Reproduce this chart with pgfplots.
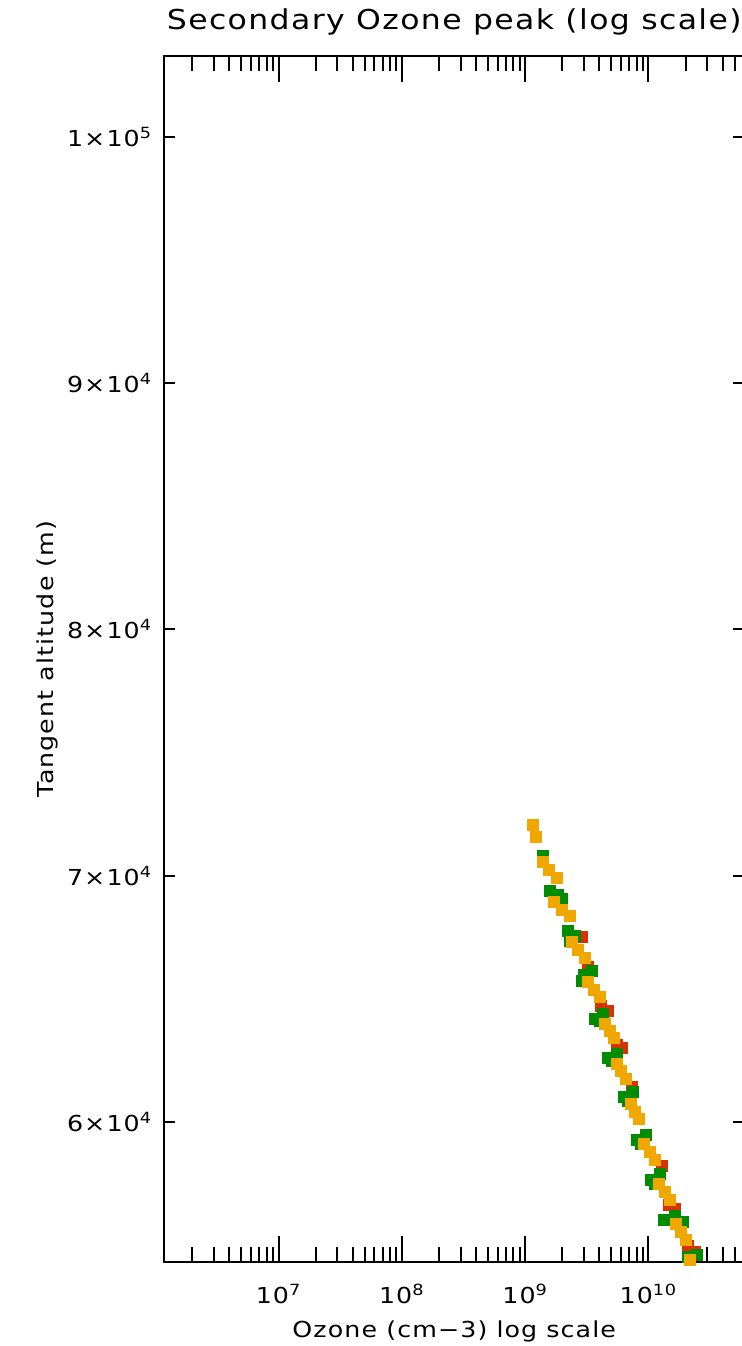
\documentclass[border=0pt]{standalone}
\usepackage{pgfplots}
\pgfplotsset{compat=1.18}
\usepackage{fontspec}
\setmainfont{DejaVu Sans}[FakeStretch=1.15, LetterSpace=5]
\definecolor{oorange}{RGB}{240,168,0}
\definecolor{ogreen}{RGB}{0,140,0}
\definecolor{ored}{RGB}{215,50,0}
\begin{document}
\begin{tikzpicture}
\begin{axis}[
  name=ax,
  scale only axis,
  width=290.75pt, height=603pt,
  xmode=log,
  xmin=1.167e6, xmax=6.07e10,
  ymin=54315, ymax=103289,
  scaled y ticks=false,
  clip=false,
  axis line style={line width=1pt, black},
  every tick/.style={line width=1pt, black},
  tick align=inside,
  major tick length=13pt,
  minor tick length=7.5pt,
  every major y tick/.append style={/pgfplots/major tick length=6pt},
  xtick={1e7,1e8,1e9,1e10},
  xticklabels={10\textsuperscript{7},10\textsuperscript{8},10\textsuperscript{9},10\textsuperscript{10}},
  minor xtick={2e6,3e6,4e6,5e6,6e6,7e6,8e6,9e6,
               2e7,3e7,4e7,5e7,6e7,7e7,8e7,9e7,
               2e8,3e8,4e8,5e8,6e8,7e8,8e8,9e8,
               2e9,3e9,4e9,5e9,6e9,7e9,8e9,9e9,
               2e10,3e10,4e10,5e10,6e10},
  ytick={60000,70000,80000,90000,100000},
  yticklabels={6×10\textsuperscript{4},7×10\textsuperscript{4},8×10\textsuperscript{4},9×10\textsuperscript{4},1×10\textsuperscript{5}},
  minor ytick={},
  tick label style={font=\fontsize{11}{13}\selectfont},
  xticklabel style={anchor=base, yshift=-20.5pt, inner sep=0pt},
  yticklabel style={anchor=east, xshift=-5.5pt, inner sep=0pt},
  title={Secondary Ozone peak (log scale)},
  title style={at={(axis description cs:0.5,1)}, anchor=base, yshift=7pt, inner sep=0pt, font=\fontsize{13.7}{15}\selectfont},
  xlabel={Ozone (cm−3) log scale},
  xlabel style={at={(axis description cs:0.5,0)}, anchor=base, yshift=-37.5pt, inner sep=0pt, font=\fontsize{11}{13}\selectfont},
  ylabel={Tangent altitude (m)},
  ylabel style={at={(axis description cs:-0.190,0.5)}, anchor=base, inner sep=0pt, font=\fontsize{11}{13}\selectfont},
]
% red series
\addplot[only marks, mark=square*, mark size=2.9pt, color=ored] coordinates {
 (2.894e9,67513) (3.237e9,66295) (4.127e9,64711) (4.703e9,64508) (5.563e9,63127) (6.108e9,63005)
 (7.362e9,61421) (1.289e10,58213) (1.469e10,56630) (1.643e10,56467)
 (2.095e10,54965) (2.388e10,54721)
};
% green series
\addplot[only marks, mark=square*, mark size=2.9pt, color=ogreen] coordinates {
 (1.397e9,70802) (1.592e9,69381) (1.849e9,69218) (1.992e9,69056)
 (2.228e9,67756) (2.540e9,67553) (2.313e9,67350)
 (3.004e9,65970) (3.488e9,66132) (2.894e9,65726)
 (3.689e9,64183) (4.284e9,64386) (4.050e9,64102)
 (4.703e9,62599) (5.563e9,62762) (5.068e9,62477)
 (6.340e9,61015) (7.500e9,61218) (6.831e9,60853)
 (8.081e9,59269) (9.561e9,59472) (8.710e9,59107)
 (1.050e10,57645) (1.242e10,57888) (1.131e10,57482)
 (1.338e10,56020) (1.643e10,56183) (1.908e10,55939)
 (2.095e10,54518) (2.479e10,54599)
};
% orange series
\addplot[only marks, mark=square*, mark size=2.9pt, color=oorange] coordinates {
 (1.159e9,72061) (1.226e9,71574)
 (1.397e9,70558) (1.562e9,70234) (1.814e9,69909)
 (1.716e9,68934) (1.992e9,68609) (2.313e9,68366)
 (2.402e9,67310) (2.685e9,66985) (3.060e9,66660)
 (3.237e9,65685) (3.621e9,65361) (4.050e9,65076)
 (4.446e9,63980) (4.882e9,63696) (5.260e9,63411)
 (5.563e9,62355) (5.995e9,62071) (6.581e9,61746)
 (7.224e9,60731) (7.785e9,60406) (8.391e9,60122)
 (9.211e9,59107) (1.030e10,58782) (1.131e10,58457)
 (1.219e10,57482) (1.363e10,57158) (1.497e10,56833)
 (1.674e10,55858) (1.838e10,55533) (2.018e10,55208)
 (2.175e10,54396)
};
\end{axis}
\pgfresetboundingbox
\path ([xshift=-81.75pt,yshift=-42pt]ax.south west) rectangle ([xshift=289.25pt,yshift=28pt]ax.north west);
\end{tikzpicture}
\end{document}
